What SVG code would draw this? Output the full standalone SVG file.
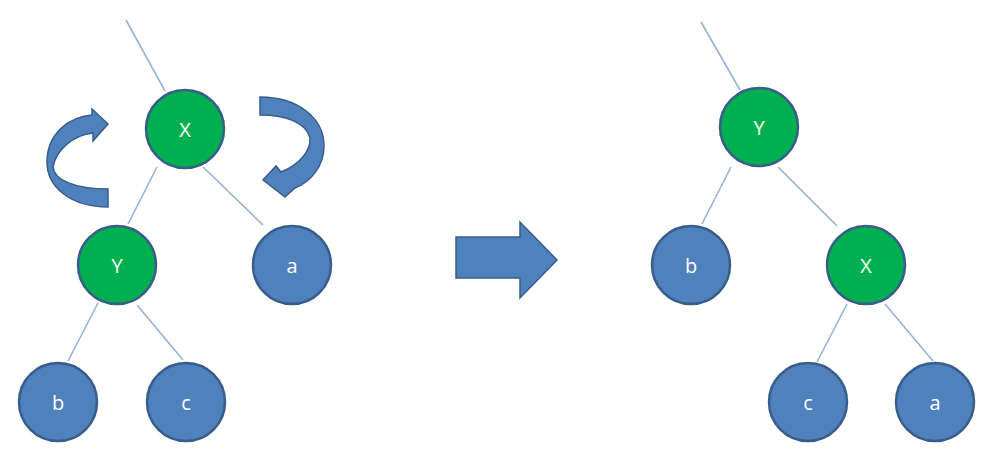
<svg xmlns="http://www.w3.org/2000/svg" width="994" height="473" viewBox="0 0 994 473">
<style>
.edge{stroke:#95B3D7;stroke-width:1.6;fill:none}
.blue{fill:#4F81BD;stroke:#385D8A;stroke-width:2.5}
.green{fill:#00B050;stroke:#385D8A;stroke-width:2.5}
.lbl{font-family:"Open Sans","Liberation Sans",sans-serif;font-size:20px;fill:#FFFFFF;text-anchor:middle;dominant-baseline:central}
.shape{fill:#4F81BD;stroke:#385D8A;stroke-width:1.5;stroke-linejoin:miter}
</style>
<rect width="994" height="473" fill="#FFFFFF"/>
<g id="connectors">
<line class="edge" x1="126" y1="20" x2="165" y2="91"/>
<line class="edge" x1="157" y1="167" x2="128" y2="224"/>
<line class="edge" x1="203" y1="167" x2="263" y2="225"/>
<line class="edge" x1="98" y1="303" x2="68" y2="361"/>
<line class="edge" x1="137" y1="305" x2="183" y2="360"/>
<line class="edge" x1="701" y1="22" x2="740" y2="90"/>
<line class="edge" x1="731" y1="167" x2="702" y2="224"/>
<line class="edge" x1="778" y1="167" x2="837" y2="226"/>
<line class="edge" x1="847" y1="304" x2="817" y2="362"/>
<line class="edge" x1="885" y1="304" x2="933" y2="361"/>
</g>
<g id="rotate-left">
<path class="shape" d="M108,207 C72,207 46,188 47,160 C48,134 68,117 92,115 L92,109 L108,124 L93,141 L93,133 C73,135 56,150 53,167 C54,180 75,189 108,189 Z"/>
</g>
<g id="rotate-right">
<path class="shape" d="M260,97 C298,97 324,118 324,146 C324,167 310,182 295,188 L285,197 L263,180 L276,166 L281,172 C299,165 311,151 310,138 C306,123 287,115 260,115 Z"/>
</g>
<g id="transform-arrow">
<path class="shape" d="M456,237 L520,237 L520,222 L557,260 L520,298 L520,278 L456,278 Z"/>
</g>
<g id="left-X"><circle class="green" cx="185" cy="129" r="39"/><text class="lbl" x="185" y="129">X</text></g>
<g id="left-Y"><circle class="green" cx="117" cy="265" r="39"/><text class="lbl" x="117" y="265">Y</text></g>
<g id="left-a"><circle class="blue" cx="292" cy="265" r="39"/><text class="lbl" x="292" y="265">a</text></g>
<g id="left-b"><circle class="blue" cx="58" cy="402" r="39"/><text class="lbl" x="58" y="402">b</text></g>
<g id="left-c"><circle class="blue" cx="186" cy="402" r="39"/><text class="lbl" x="186" y="402">c</text></g>
<g id="right-Y"><circle class="green" cx="759" cy="127" r="39"/><text class="lbl" x="759" y="127">Y</text></g>
<g id="right-b"><circle class="blue" cx="691" cy="265" r="39"/><text class="lbl" x="691" y="265">b</text></g>
<g id="right-X"><circle class="green" cx="866" cy="265" r="39"/><text class="lbl" x="866" y="265">X</text></g>
<g id="right-c"><circle class="blue" cx="808" cy="402" r="39"/><text class="lbl" x="808" y="402">c</text></g>
<g id="right-a"><circle class="blue" cx="935" cy="402" r="39"/><text class="lbl" x="935" y="402">a</text></g>
</svg>
